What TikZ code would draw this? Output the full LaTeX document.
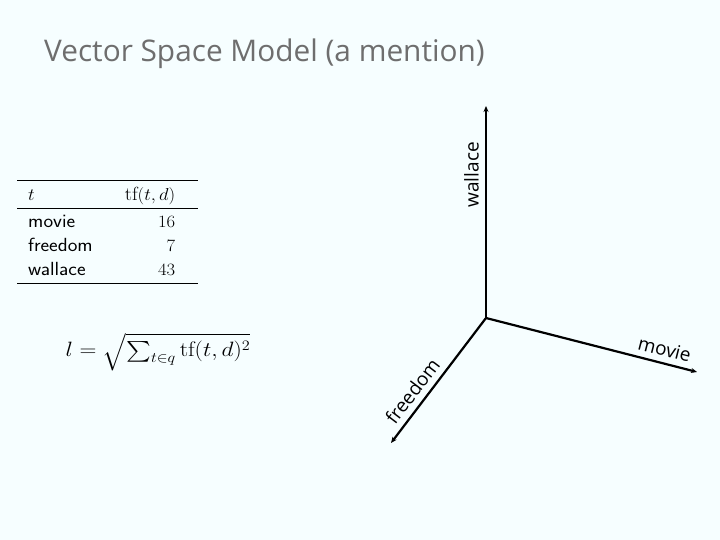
\documentclass[tikz,border=0pt]{standalone}
\usepackage{fontspec}
\usepackage{amsmath}
\usepackage{array}
\usepackage{booktabs}
\usepackage{graphicx}
\newfontfamily\slidefont{Open Sans}
\definecolor{slidebg}{HTML}{F6FEFF}
\definecolor{titlegrey}{RGB}{110, 110, 110}
\usetikzlibrary{arrows.meta}
\setlength{\aboverulesep}{0.8pt}
\setlength{\belowrulesep}{2.2pt}

\begin{document}
\begin{tikzpicture}[
  x=1pt, y=-1pt,
  axis/.style={line width=2.2pt, -{Stealth[length=6pt, width=5pt]}},
  axislabel/.style={font=\slidefont\fontsize{19}{21}\selectfont, sloped, above=4pt, inner sep=2pt},
  titletext/.style={font=\slidefont\fontsize{29.8}{34}\selectfont, text=titlegrey, anchor=base west, inner sep=0pt}
]
  % slide background
  \path[fill=slidebg] (0,0) rectangle (720,540);

  \node[titletext] (title) at (44,62) {Vector Space Model (a mention)};

  % term frequency table
  \node[anchor=north west, inner sep=0pt] (tftable) at (17,180) {%
    \scalebox{1.08}[1]{\fontsize{19}{24}\selectfont
    \begin{tabular}{@{\hspace{10.2pt}}p{84.3pt}@{}>{\raggedleft\arraybackslash}p{51.8pt}@{\hspace{21.3pt}}}
      \toprule
      $t$ & $\mathrm{tf}(t,d)$\\
      \midrule
      \textsf{movie} & $16$\\
      \textsf{freedom} & $7$\\
      \textsf{wallace} & $43$\\
      \bottomrule
    \end{tabular}}};

  % length of the vector
  \node[inner sep=0pt] (veclen) at (158,352) {%
    \scalebox{1.13}[1]{\fontsize{21}{24}\selectfont
    $l = \sqrt{\sum_{t\in q}\mathrm{tf}(t,d)^2}$}};

  % axes
  \coordinate (origin) at (486,318);
  \coordinate (wallacetip) at (486,106);
  \coordinate (movietip) at (697,372);
  \coordinate (freedomtip) at (391,443);
  \draw[axis] (origin) -- (wallacetip) node[axislabel, pos=0.675] (wallacelbl) {wallace};
  \draw[axis] (origin) -- (movietip) node[axislabel, pos=0.83] (movielbl) {movie};
  \draw[axis] (origin) -- (freedomtip) node[axislabel, pos=0.655] (freedomlbl) {freedom};
\end{tikzpicture}
\end{document}
